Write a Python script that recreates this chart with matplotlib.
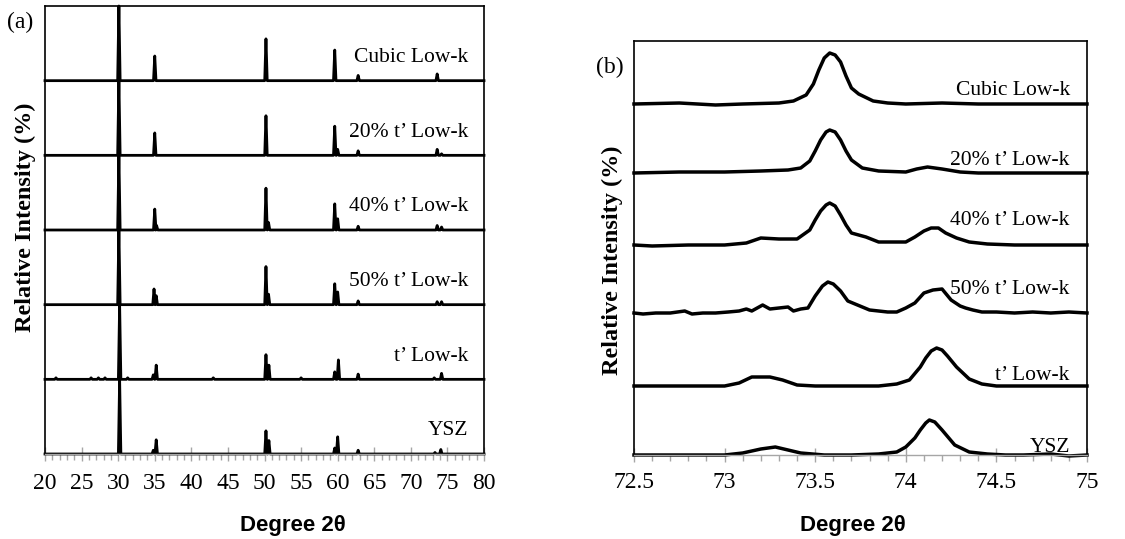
import matplotlib
matplotlib.use("Agg")
import matplotlib.pyplot as plt
from matplotlib.ticker import MultipleLocator

serif = "Liberation Serif"
sans = "Liberation Sans"
tick_grey = "#a6a6a6"

samples = ["Cubic Low-k", "20% t’ Low-k", "40% t’ Low-k",
           "50% t’ Low-k", "t’ Low-k", "YSZ"]

# (a) full scan 20-80 deg: peak positions (deg 2theta) and heights (% of strip)
peaks_a_pos = [
    [30.1, 35.0, 50.2, 59.6, 62.8, 73.6],
    [30.1, 35.0, 50.2, 59.6, 60.0, 62.8, 73.6, 74.2],
    [30.1, 35.0, 35.25, 50.2, 50.55, 59.6, 60.0, 62.8, 73.6, 74.2],
    [30.1, 34.9, 35.2, 50.2, 50.55, 59.6, 60.0, 62.8, 73.6, 74.2],
    [21.5, 26.3, 27.3, 28.2, 30.2, 31.3, 34.8, 35.2, 43.0, 50.2, 50.6,
     55.0, 59.6, 60.1, 62.8, 73.2, 74.2],
    [30.2, 34.8, 35.2, 50.2, 50.6, 59.6, 60.0, 62.8, 73.3, 74.1],
]
peaks_a_int = [
    [100, 33, 56, 41, 7, 9],
    [100, 30, 53, 39, 8, 6, 8, 2],
    [100, 28, 6, 56, 10, 35, 15, 5, 6, 4],
    [100, 21, 12, 51, 14, 28, 17, 5, 4, 4],
    [2, 2, 2, 2, 100, 2, 6, 19, 2, 33, 19, 2, 10, 26, 7, 2, 8],
    [100, 5, 19, 31, 18, 8, 23, 5, 2, 6],
]

# (b) zoom 72.5-75 deg: traces (relative intensity)
b_x = [
    [72.5, 72.75, 72.95, 73.1, 73.3, 73.38, 73.45, 73.49, 73.52, 73.55,
     73.58, 73.61, 73.64, 73.67, 73.7, 73.74, 73.82, 73.9, 74.0, 74.2,
     74.4, 74.6, 74.8, 75.0],
    [72.5, 72.75, 73.0, 73.2, 73.35, 73.42, 73.47, 73.5, 73.53, 73.56,
     73.58, 73.61, 73.64, 73.67, 73.7, 73.76, 73.85, 74.0, 74.06, 74.12,
     74.2, 74.3, 74.4, 74.6, 75.0],
    [72.5, 72.6, 72.8, 73.0, 73.12, 73.2, 73.3, 73.4, 73.47, 73.5, 73.53,
     73.56, 73.58, 73.61, 73.64, 73.67, 73.7, 73.78, 73.85, 74.0, 74.05,
     74.1, 74.14, 74.18, 74.22, 74.28, 74.35, 74.45, 74.6, 75.0],
    [72.5, 72.55, 72.62, 72.7, 72.78, 72.82, 72.88, 72.95, 73.02, 73.08,
     73.12, 73.15, 73.18, 73.21, 73.25, 73.3, 73.35, 73.38, 73.42, 73.46,
     73.5, 73.54, 73.57, 73.6, 73.64, 73.68, 73.8, 73.9, 73.95, 74.0,
     74.05, 74.1, 74.15, 74.2, 74.25, 74.3, 74.33, 74.37, 74.42, 74.5,
     74.6, 74.7, 74.8, 74.9, 75.0],
    [72.5, 72.8, 73.0, 73.08, 73.15, 73.25, 73.32, 73.4, 73.5, 73.7,
     73.85, 73.95, 74.02, 74.08, 74.11, 74.14, 74.17, 74.2, 74.23, 74.28,
     74.35, 74.42, 74.5, 74.7, 75.0],
    [72.5, 72.8, 73.0, 73.1, 73.2, 73.28, 73.35, 73.42, 73.55, 73.7,
     73.85, 73.95, 74.0, 74.05, 74.08, 74.11, 74.13, 74.16, 74.2, 74.27,
     74.35, 74.45, 74.55, 74.65, 74.8, 74.9, 75.0],
]
b_y = [
    [0, 1, -1, 0, 1, 3, 9, 20, 34, 46, 51, 49, 42, 28, 16, 10, 3, 1, 0, 1,
     0, 0, 0, 0],
    [0, 1, 1, 2, 3, 5, 12, 22, 33, 41, 43, 41, 33, 22, 13, 5, 2, 1, 4, 6,
     4, 1, 0, 0, 0],
    [0, -1, 0, 0, 2, 7, 6, 6, 15, 25, 34, 40, 42, 39, 30, 20, 12, 8, 3, 3,
     8, 14, 17, 17, 12, 7, 3, 1, 0, 0],
    [0, -1, 0, 0, 2, -1, 0, 0, 1, 2, 4, 2, 5, 8, 4, 5, 6, 2, 4, 5, 17, 27,
     31, 29, 22, 12, 3, 1, 1, 5, 10, 20, 23, 24, 13, 7, 5, 3, 1, 1, 0, 1,
     0, 1, 0],
    [0, 0, 0, 3, 9, 9, 6, 1, 0, 0, 0, 2, 6, 19, 28, 35, 38, 36, 30, 19, 7,
     2, 0, 0, 0],
    [0, 0, 0, 2, 6, 8, 5, 2, 0, 0, 1, 3, 8, 17, 25, 32, 35, 33, 25, 10, 3,
     1, 0, 0, 1, -1, 0],
]

fig = plt.figure(figsize=(11.25, 5.39), dpi=100)


def style_axes(ax, pad):
    for side in ("left", "right", "top"):
        ax.spines[side].set_color("black")
        ax.spines[side].set_linewidth(1.2)
    ax.spines["bottom"].set_color(tick_grey)
    ax.spines["bottom"].set_linewidth(1.0)
    ax.set_yticks([])
    ax.tick_params(axis="x", which="major", direction="inout", length=10,
                   width=1, color=tick_grey, pad=pad, labelsize=17)
    ax.tick_params(axis="x", which="minor", direction="out", length=4,
                   width=1, color=tick_grey)
    for lab in ax.get_xticklabels():
        lab.set_fontfamily(serif)


def spikes(pos, ints, hw=0.17):
    xs, ys = [20], [0]
    for p, h in zip(pos, ints):
        xs += [p - hw, p, p + hw]
        ys += [0, h, 0]
    xs.append(80)
    ys.append(0)
    return xs, ys


# ---- (a)
ax1 = fig.add_axes([45 / 1125, 85 / 539, 439 / 1125, 448 / 539])
n = len(samples)
for i, name in enumerate(samples):
    off = (n - 1 - i) * 100
    xs, ys = spikes(peaks_a_pos[i], peaks_a_int[i])
    ax1.plot(xs, [y + off for y in ys], color="black", lw=2.0,
             solid_joinstyle="round", clip_on=False)
    ax1.text(77.8, off + 31, name, ha="right", va="center",
             fontsize=15.5, family=serif)
ax1.set_xlim(20, 80)
ax1.set_ylim(0, n * 100)
ax1.xaxis.set_major_locator(MultipleLocator(5))
ax1.xaxis.set_minor_locator(MultipleLocator(1))
style_axes(ax1, pad=9)

# ---- (b)
ax2 = fig.add_axes([634 / 1125, 84 / 539, 453 / 1125, 414 / 539])
b_offsets = [351, 282, 210, 142, 69, 0]
b_label_lift = [14, 13, 25, 23, 11, 7]
for i, name in enumerate(samples):
    off = b_offsets[i]
    ax2.plot(b_x[i], [y + off for y in b_y[i]], color="black", lw=2.5,
             solid_joinstyle="round", clip_on=False)
    ax2.text(74.905, off + b_label_lift[i], name, ha="right", va="center",
             fontsize=15.5, family=serif)
ax2.set_xlim(72.5, 75)
ax2.set_ylim(0, 414)
ax2.xaxis.set_minor_locator(MultipleLocator(0.1))
ax2.set_xticks([72.5, 73, 73.5, 74, 74.5, 75])
ax2.set_xticklabels(["72.5", "73", "73.5", "74", "74.5", "75"], fontsize=17)
style_axes(ax2, pad=7)

# axis titles, panel tags
fig.text(293 / 1125, 1 - 525 / 539, "Degree 2θ", fontsize=16,
         fontweight="bold", family=sans, ha="center", va="center")
fig.text(853 / 1125, 1 - 525 / 539, "Degree 2θ", fontsize=16,
         fontweight="bold", family=sans, ha="center", va="center")
fig.text(20 / 1125, 1 - 22 / 539, "(a)", fontsize=17, family=serif,
         ha="center", va="center")
fig.text(610 / 1125, 1 - 67 / 539, "(b)", fontsize=17, family=serif,
         ha="center", va="center")
fig.text(25 / 1125, 1 - 217 / 539, "Relative Intensity (%)", rotation=90,
         fontsize=17.5, fontweight="bold", family=serif,
         ha="center", va="center")
fig.text(612 / 1125, 1 - 260 / 539, "Relative Intensity (%)", rotation=90,
         fontsize=17.5, fontweight="bold", family=serif,
         ha="center", va="center")

fig.savefig("out.png", dpi=100)
